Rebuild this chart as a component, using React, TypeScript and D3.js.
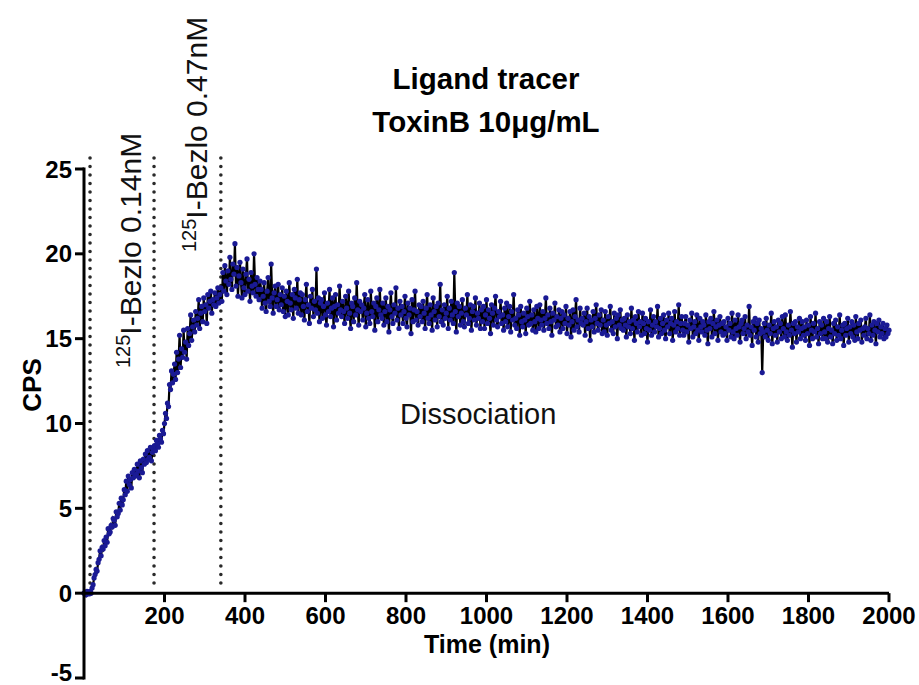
import React from "react";
import * as d3 from "d3";

// Sampling step of the trace (min)
const TIME_STEP = 2.5;

// Association phase 1 (t = 0 .. 172.5 min)
const assoc1: number[] = [
  0.0, 0.05, -0.1, 0.1, 0.0, -0.05, 0.1, 0.0, 0.3, 0.5, 0.9, 1.1, 1.4, 1.3, 1.8, 2.0, 2.5, 2.2, 2.7, 2.6,
  3.1, 2.8, 3.3, 3.0, 3.8, 3.5, 3.6, 4.0, 3.9, 4.4, 4.3, 4.0, 4.8, 4.5, 4.7, 5.3, 4.9, 5.6, 5.2, 5.5,
  6.1, 5.8, 6.6, 6.0, 6.9, 6.4, 6.7, 6.2, 7.1, 6.8, 7.3, 6.9, 7.0, 7.6, 7.2, 6.8, 7.8, 7.4, 7.1, 7.9,
  7.6, 8.2, 7.7, 8.4, 7.9, 8.0, 8.6, 7.8, 8.3, 8.5,
];

// Association phase 2 (t = 175 .. 337.5 min)
const assoc2: number[] = [
  8.7, 8.4, 9.0, 8.8, 8.6, 9.3, 9.1, 8.9, 9.6, 9.4, 10.0, 10.6, 10.3, 11.2, 11.0, 12.3, 12.0, 13.1, 12.4, 12.9,
  13.5, 12.6, 14.2, 13.0, 13.8, 15.2, 13.3, 14.4, 13.9, 15.5, 14.2, 14.8, 13.8, 15.6, 14.6, 15.3, 16.4, 14.9, 15.7, 16.1,
  15.4, 16.6, 15.8, 16.2, 17.3, 15.6, 16.5, 16.9, 16.0, 17.4, 16.6, 17.0, 15.9, 17.6, 16.8, 17.2, 17.8, 16.5, 17.3, 17.0,
  17.7, 16.9, 17.4, 18.0, 17.1, 17.6,
];

// Dissociation phase (t = 340 .. 2000 min)
const dissoc: number[] = [
  18.0, 17.2, 18.9, 17.8, 19.3, 18.4, 17.6, 19.0, 18.2, 19.8, 18.5, 17.9, 19.4, 18.8, 20.6, 18.1, 19.2, 17.5, 18.7, 19.5,
  18.3, 17.4, 19.1, 18.0, 17.6, 18.8, 19.7, 17.8, 18.5, 17.2, 18.9, 18.1, 17.7, 20.0, 18.2, 17.5, 18.6, 17.9, 17.3, 18.4,
  17.9, 16.8, 17.5, 18.3, 17.1, 16.6, 17.8, 18.6, 17.2, 16.9, 19.4, 17.4, 16.5, 17.7, 18.1, 16.9, 17.3, 18.2, 16.7, 17.6,
  17.0, 18.0, 16.6, 17.5, 16.3, 17.8, 17.2, 16.4, 18.3, 17.1, 16.7, 17.6, 16.2, 17.9, 17.4, 16.8, 18.5, 16.5, 17.3, 17.7,
  16.4, 17.6, 16.9, 16.1, 17.3, 18.2, 16.6, 17.0, 15.9, 17.5, 16.8, 17.9, 16.3, 17.2, 16.7, 19.1, 16.5, 17.4, 16.0, 17.1,
  17.3, 16.2, 16.9, 17.7, 16.4, 15.8, 17.1, 16.6, 17.9, 16.3, 16.8, 17.4, 15.7, 16.9, 17.6, 16.1, 17.0, 16.5, 18.1, 16.7,
  16.3, 17.2, 16.6, 15.9, 17.5, 16.8, 16.2, 17.8, 16.5, 15.6, 17.1, 16.9, 16.0, 17.4, 16.4, 18.3, 16.7, 15.8, 17.2, 16.6,
  17.0, 16.1, 16.8, 17.6, 15.7, 16.5, 17.3, 16.2, 15.9, 17.8, 16.6, 16.3, 17.1, 15.5, 16.9, 17.4, 16.0, 16.7, 17.9, 16.4,
  16.2, 17.1, 15.8, 16.6, 17.4, 16.0, 16.9, 15.4, 16.7, 17.7, 16.3, 15.9, 17.0, 16.5, 18.0, 16.1, 16.8, 15.6, 17.2, 16.4,
  16.9, 15.9, 16.6, 17.5, 16.2, 15.7, 17.1, 16.4, 16.8, 15.3, 17.3, 16.0, 16.7, 17.8, 16.1, 16.6, 15.8, 17.0, 16.3, 16.9,
  16.0, 17.2, 16.5, 15.6, 16.8, 17.6, 16.2, 15.9, 17.0, 16.4, 15.5, 17.4, 16.6, 16.1, 16.9, 15.7, 17.1, 16.3, 18.2, 16.0,
  16.7, 15.8, 17.0, 16.2, 16.5, 17.5, 15.6, 16.8, 16.1, 17.2, 16.4, 15.9, 18.9, 16.6, 15.4, 17.1, 16.3, 16.9, 15.8, 16.5,
  17.3, 16.0, 15.7, 16.8, 16.4, 17.6, 15.9, 16.2, 17.0, 15.5, 16.6, 16.9, 16.1, 17.4, 15.8, 16.5, 16.2, 17.1, 15.6, 16.7,
  16.0, 16.9, 15.6, 16.4, 17.3, 15.9, 16.7, 16.2, 15.3, 17.0, 16.5, 15.8, 16.8, 17.5, 16.1, 15.7, 16.6, 16.3, 17.2, 15.9,
  16.4, 15.5, 16.8, 16.0, 17.1, 15.7, 16.3, 16.9, 15.4, 16.6, 16.1, 17.6, 15.8, 16.2, 15.6, 16.7, 16.4, 15.2, 16.9, 16.0,
  15.7, 16.5, 16.1, 15.3, 16.8, 16.3, 15.8, 17.2, 15.9, 16.4, 15.5, 16.7, 16.0, 15.4, 16.9, 16.2, 15.6, 17.0, 16.1, 15.8,
  16.6, 15.5, 16.2, 17.4, 15.9, 16.4, 15.6, 16.8, 16.0, 15.2, 16.5, 16.1, 17.1, 15.7, 16.3, 15.8, 16.7, 15.4, 16.2, 16.6,
  15.6, 16.4, 15.9, 16.9, 15.3, 16.2, 15.8, 16.6, 15.1, 16.0, 16.7, 15.5, 16.3, 17.3, 15.7, 16.1, 15.4, 16.8, 15.9, 16.2,
  15.8, 16.5, 15.2, 16.0, 16.8, 15.6, 16.3, 14.9, 16.1, 15.7, 16.6, 15.4, 16.2, 17.0, 15.9, 15.5, 16.4, 15.8, 16.7, 15.3,
  16.1, 15.4, 16.6, 15.8, 15.2, 16.3, 15.9, 16.9, 15.5, 16.0, 15.3, 16.5, 15.7, 16.2, 15.0, 16.4, 15.8, 16.7, 15.6, 16.1,
  15.5, 16.2, 15.8, 15.1, 16.4, 15.7, 16.0, 15.3, 16.8, 15.6, 16.1, 14.9, 16.3, 15.9, 15.4, 16.6, 15.7, 16.0, 15.2, 16.5,
  15.9, 15.3, 16.2, 15.6, 14.8, 16.0, 15.5, 16.7, 15.2, 15.8, 16.3, 15.4, 16.0, 15.7, 16.9, 15.1, 15.6, 16.2, 15.3, 15.9,
  16.4, 15.5, 15.0, 16.1, 15.7, 16.5, 15.3, 15.9, 16.2, 14.9, 15.8, 16.6, 15.4, 16.0, 15.6, 17.0, 15.2, 15.9, 16.3, 15.5,
  15.2, 15.9, 16.3, 15.4, 15.8, 14.8, 16.1, 15.6, 16.5, 15.1, 15.7, 16.0, 15.3, 16.4, 15.5, 14.9, 16.2, 15.7, 15.4, 16.0,
  15.8, 15.2, 16.4, 15.5, 14.7, 16.0, 15.6, 16.2, 15.1, 15.9, 16.6, 15.3, 15.7, 16.1, 14.9, 15.8, 16.3, 15.4, 15.9, 15.2,
  16.0, 15.3, 15.7, 14.9, 16.2, 15.5, 15.9, 15.1, 16.5, 15.4, 15.0, 16.1, 15.6, 15.2, 16.4, 15.7, 14.8, 15.9, 16.1, 15.3,
  15.6, 16.3, 15.0, 15.8, 15.4, 16.9, 15.2, 15.7, 14.6, 16.0, 15.5, 16.2, 15.1, 15.9, 14.8, 16.1, 15.3, 15.6, 13.0, 15.4,
  15.9, 15.1, 16.2, 15.5, 14.9, 15.8, 15.3, 16.5, 14.7, 15.6, 16.0, 15.2, 15.7, 14.8, 16.1, 15.4, 15.9, 15.0, 16.3, 15.6,
  15.1, 16.4, 15.4, 14.9, 15.8, 15.2, 16.6, 15.5, 14.5, 15.9, 15.3, 16.0, 14.8, 15.7, 15.4, 16.2, 15.0, 15.6, 16.0, 15.2,
  15.7, 14.9, 16.1, 15.3, 15.8, 14.6, 16.3, 15.5, 15.0, 15.9, 15.4, 16.5, 15.1, 15.6, 14.7, 16.0, 15.3, 15.8, 15.0, 16.2,
  15.4, 15.0, 16.0, 14.8, 15.6, 16.3, 15.1, 15.5, 14.7, 15.9, 15.3, 16.1, 14.9, 15.7, 15.2, 16.4, 15.0, 15.5, 15.8, 14.6,
  15.9, 15.2, 15.6, 16.2, 14.8, 15.7, 15.3, 16.0, 15.1, 15.8, 14.9, 16.3, 15.4, 15.0, 15.9, 15.5, 16.1, 14.8, 15.6, 15.2,
  15.7, 16.2, 15.0, 15.6, 15.3, 16.4, 14.9, 15.8, 15.2, 16.0, 15.5, 14.7, 15.9, 15.4, 16.1, 15.1, 15.7, 15.3, 15.9, 15.0,
  15.6, 15.1, 15.8, 15.3, 15.5,
];

// Injection markers (min)
const injectionTimes: number[] = [15, 174, 340];
const markerTop = 25.8;
const markerBottom = 0.6;

const xTicks: number[] = [200, 400, 600, 800, 1000, 1200, 1400, 1600, 1800, 2000];
const yTicks: number[] = [-5, 0, 5, 10, 15, 20, 25];

const titleLines: string[] = ["Ligand tracer", "ToxinB 10\u03bcg/mL"];
const xLabel = "Time (min)";
const yLabel = "CPS";
const phaseLabel = "Dissociation";
const injectionLabels: string[] = ["I-Bezlo 0.14nM", "I-Bezlo 0.47nM"];
const isotope = "125";

const FONT = "'Liberation Sans', Arial, Helvetica, sans-serif";

export default function App() {
  const W = 919;
  const H = 685;
  const x = d3.scaleLinear().domain([0, 2000]).range([84, 889]);
  const y = d3.scaleLinear().domain([-5, 25]).range([678, 169]);

  const values = [...assoc1, ...assoc2, ...dissoc];
  const pts = values.map((v, i) => [i * TIME_STEP, v] as [number, number]);
  const line = d3
    .line<[number, number]>()
    .x((d) => x(d[0]))
    .y((d) => y(d[1]));

  const labelPos = [
    { x: 141, y: 368 },
    { x: 207, y: 252 },
  ];

  return (
    <svg
      width={W}
      height={H}
      style={{ position: "absolute", left: 0, top: 0, background: "#fff" }}
      fontFamily={FONT}
    >
      <rect width={W} height={H} fill="#fff" />

      {/* Title */}
      {titleLines.map((t, i) => (
        <text
          key={t}
          x={486}
          y={89 + i * 43}
          textAnchor="middle"
          fontSize={29.5}
          fontWeight="bold"
          fill="#000"
        >
          {t}
        </text>
      ))}

      {/* Injection dotted lines */}
      {injectionTimes.map((t) => (
        <line
          key={t}
          x1={x(t)}
          x2={x(t)}
          y1={y(markerBottom)}
          y2={y(markerTop)}
          stroke="#2a2a2a"
          strokeWidth={3.6}
          strokeLinecap="round"
          strokeDasharray="0 8.5"
        />
      ))}

      {/* Injection labels */}
      {injectionLabels.map((lab, i) => (
        <text
          key={lab}
          transform={`translate(${labelPos[i].x},${labelPos[i].y}) rotate(-90)`}
          fontSize={30}
          fill="#111"
        >
          <tspan fontSize={20} dy={-11}>
            {isotope}
          </tspan>
          <tspan dy={11}>{lab}</tspan>
        </text>
      ))}

      {/* Data trace */}
      <path d={line(pts) || ""} fill="none" stroke="#000" strokeWidth={2.2} />
      {pts.map((d, i) => (
        <circle key={i} cx={x(d[0])} cy={y(d[1])} r={2.6} fill="#1a1a94" />
      ))}

      {/* Axes */}
      <line x1={x(0)} x2={x(2000)} y1={y(0)} y2={y(0)} stroke="#000" strokeWidth={3} />
      <line x1={x(0)} x2={x(0)} y1={y(-5) + 1.5} y2={y(25) - 1.5} stroke="#000" strokeWidth={3} />
      {xTicks.map((t) => (
        <g key={t}>
          <line x1={x(t)} x2={x(t)} y1={y(0)} y2={y(0) + 9} stroke="#000" strokeWidth={3} />
          <text
            x={x(t)}
            y={y(0) + 31}
            textAnchor="middle"
            fontSize={24}
            fontWeight="bold"
            fill="#000"
          >
            {t}
          </text>
        </g>
      ))}
      {yTicks.map((t) => (
        <g key={t}>
          <line x1={x(0) - 9} x2={x(0)} y1={y(t)} y2={y(t)} stroke="#000" strokeWidth={3} />
          <text
            x={x(0) - 12}
            y={t === -5 ? 681 : y(t) + 8.5}
            textAnchor="end"
            fontSize={24}
            fontWeight="bold"
            fill="#000"
          >
            {t}
          </text>
        </g>
      ))}

      {/* Axis titles */}
      <text x={487} y={653} textAnchor="middle" fontSize={25} fontWeight="bold" fill="#000">
        {xLabel}
      </text>
      <text
        transform={`translate(41,385) rotate(-90)`}
        textAnchor="middle"
        fontSize={26}
        fontWeight="bold"
        fill="#000"
      >
        {yLabel}
      </text>

      {/* Phase label */}
      <text x={400} y={424} fontSize={29} fill="#111">
        {phaseLabel}
      </text>
    </svg>
  );
}
